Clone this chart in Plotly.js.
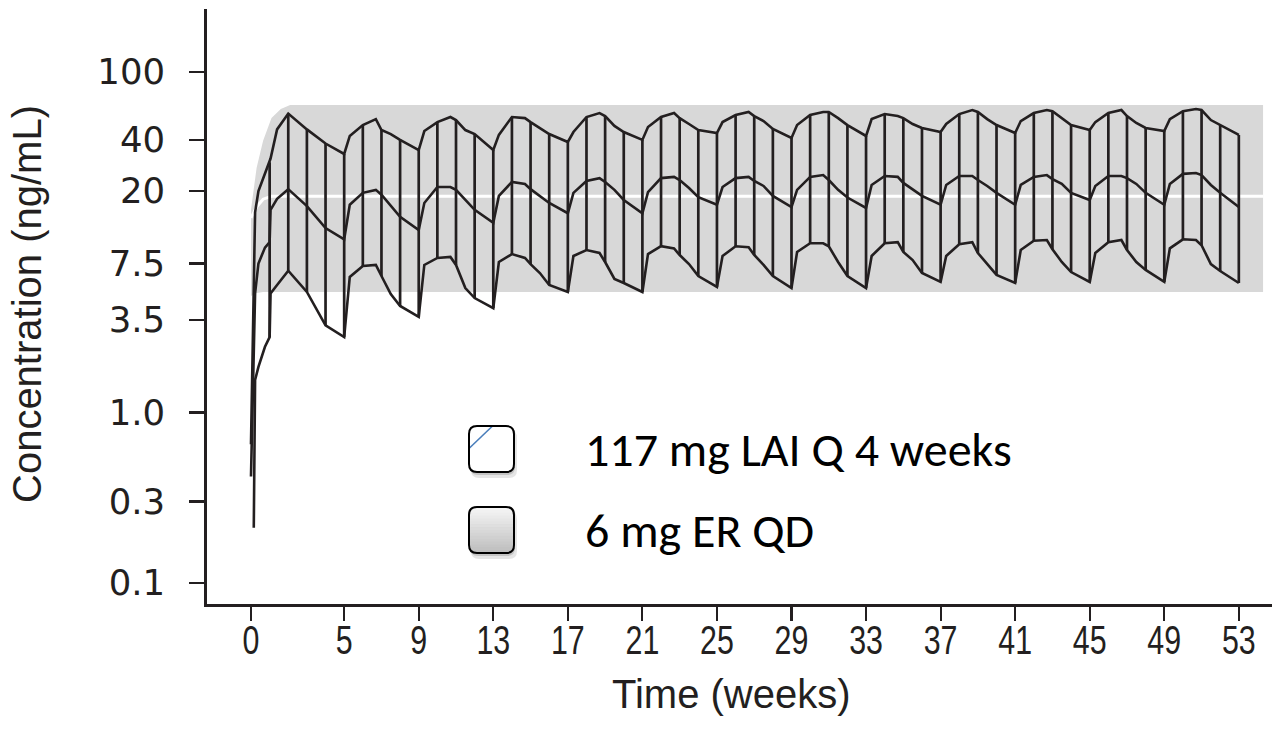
<!DOCTYPE html>
<html><head><meta charset="utf-8">
<script src="https://cdn.plot.ly/plotly-3.0.1.min.js"></script>
<style>html,body{margin:0;padding:0;background:#fff;} #chart{width:1272px;height:742px;}</style>
</head><body><div id="chart"></div>
<script>
// ---- LAI (117 mg Q 4 weeks) simulated band: weeks and 5th/50th/95th percentile (ng/mL)
const weeks = [
  0, 0.15, 0.22, 0.4, 0.75, 1, 1.05, 1.4, 2, 3, 4,
  5, 5.3, 6, 6.7, 7, 7.5, 8,
  9, 9.3, 10, 10.7, 11, 11.5, 12,
  13, 13.3, 14, 14.7, 15, 15.5, 16,
  17, 17.3, 18, 18.7, 19, 19.5, 20,
  21, 21.3, 22, 22.7, 23, 23.5, 24,
  25, 25.3, 26, 26.7, 27, 27.5, 28,
  29, 29.3, 30, 30.7, 31, 31.5, 32,
  33, 33.3, 34, 34.7, 35, 35.5, 36,
  37, 37.3, 38, 38.7, 39, 39.5, 40,
  41, 41.3, 42, 42.7, 43, 43.5, 44,
  45, 45.3, 46, 46.7, 47, 47.5, 48,
  49, 49.3, 50, 50.7, 51, 51.5, 52,
  53
];
const laiUpper = [
  0.65, 7, 15, 20, 25.5, 29.5, 31, 46, 57, 46, 38,
  33.0, 42.1, 48.8, 52.9, 45.6, 43.2, 39.9,
  34.8, 45.0, 50.8, 54.4, 52.2, 45.6, 43.2,
  34.8, 42.7, 54.4, 53.6, 50.8, 46.9, 43.2,
  38.8, 44.4, 54.4, 57.4, 55.1, 48.2, 44.4,
  39.9, 47.5, 54.4, 57.4, 53.6, 49.5, 45.6,
  43.8, 50.8, 55.9, 58.2, 55.1, 51.5, 46.3,
  41.0, 48.8, 55.9, 58.2, 58.2, 53.6, 48.8,
  42.1, 52.9, 56.6, 55.1, 53.6, 49.5, 46.9,
  44.4, 49.5, 56.6, 59.8, 58.2, 52.9, 48.8,
  43.8, 51.5, 57.4, 59.8, 58.9, 53.6, 48.8,
  45.6, 50.8, 57.4, 59.8, 55.1, 50.2, 46.9,
  45.0, 52.9, 58.9, 60.6, 59.8, 52.2, 48.8,
  42.7
];
const laiMedian = [
  0.42, 2.5, 5.0, 7.5, 9.3, 10.0, 15.5, 18.0, 20.5, 16.3, 12.1,
  10.4, 16.6, 19.5, 20.3, 19.0, 16.3, 14.1,
  11.8, 17.0, 21.1, 21.1, 20.3, 17.7, 15.5,
  13.0, 18.7, 22.6, 22.0, 20.5, 18.7, 17.0,
  14.8, 19.5, 22.9, 23.8, 22.6, 20.3, 17.7,
  14.8, 19.7, 23.8, 24.2, 23.2, 20.8, 18.4,
  16.6, 21.1, 23.8, 24.2, 22.9, 21.4, 18.7,
  16.1, 20.3, 24.2, 24.8, 23.2, 20.3, 18.3,
  15.9, 21.7, 24.5, 24.2, 22.3, 20.5, 18.7,
  16.6, 21.7, 24.5, 24.5, 23.2, 21.4, 19.5,
  16.6, 21.7, 24.2, 24.8, 23.5, 22.0, 19.5,
  17.7, 21.4, 24.5, 24.5, 23.8, 22.0, 19.5,
  16.6, 22.0, 25.2, 25.5, 24.8, 21.7, 19.5,
  16.1
];
const laiLower = [
  null, 0.21, 1.55, 1.85, 2.43, 2.77, 5.0, 5.6, 6.8, 5.1, 3.25,
  2.77, 6.25, 7.25, 7.35, 6.33, 4.96, 4.22,
  3.64, 7.35, 8.08, 8.19, 7.35, 5.38, 4.70,
  4.10, 7.65, 8.52, 8.08, 7.44, 6.59, 5.61,
  5.10, 8.30, 9.0, 8.64, 7.65, 6.08, 5.76,
  5.10, 8.52, 9.47, 9.2, 8.41, 7.44, 6.33,
  5.46, 8.30, 9.47, 9.34, 8.41, 7.35, 6.33,
  5.38, 8.76, 9.86, 9.86, 9.47, 7.65, 6.33,
  5.38, 8.30, 9.86, 10.0, 8.76, 7.86, 6.59,
  5.84, 8.30, 9.73, 10.0, 8.64, 7.44, 6.42,
  5.76, 9.0, 10.2, 10.3, 9.1, 7.65, 6.68,
  5.84, 8.64, 10.0, 10.3, 9.0, 7.65, 6.87,
  5.84, 9.2, 10.4, 10.3, 9.6, 7.44, 6.77,
  5.76
];

// ---- ER (6 mg QD) band
const erWeeks  = [0, 0.3, 0.65, 1.1, 1.6, 2.1, 54.3];
const erUpper  = [15.5, 27.3, 39.4, 53.6, 60.6, 64.0, 64.0];
const erMedian = [13.9, 16.1, 17.9, 18.6, 18.6, 18.6, 18.6];
const erLower  = [4.83, 5.03, 5.1, 5.1, 5.1, 5.1, 5.1];

// ---- axes
const xTickVals = [0, 5, 9, 13, 17, 21, 25, 29, 33, 37, 41, 45, 49, 53];
const yTickVals = [0.1, 0.3, 1, 3.5, 7.5, 20, 40, 100];
const yTickText = ['0.1', '0.3', '1.0', '3.5', '7.5', '20', '40', '100'];
const xTitle = 'Time (weeks)';
const yTitle = 'Concentration (ng/mL)';
const legendLabels = ['117 mg LAI Q 4 weeks', '6 mg ER QD'];

const INK = '#231f20';

// hatch lines at every whole week of the LAI series
const hx = [], hy = [];
weeks.forEach((w, i) => {
  if (Number.isInteger(w) && w >= 1 && laiLower[i] != null) {
    hx.push(w, w, null); hy.push(laiLower[i], laiUpper[i], null);
  }
});

const traces = [
  {x: erWeeks, y: erLower, mode: 'lines', line: {width: 0, color: 'rgba(0,0,0,0)'}, hoverinfo: 'skip'},
  {x: erWeeks, y: erUpper, mode: 'lines', fill: 'tonexty', fillcolor: '#d8d8d8', line: {width: 0, color: 'rgba(0,0,0,0)'}, hoverinfo: 'skip'},
  {x: erWeeks, y: erMedian, mode: 'lines', line: {width: 3, color: '#ffffff'}},
  {x: hx, y: hy, mode: 'lines', line: {width: 2.7, color: INK}, connectgaps: false},
  {x: weeks, y: laiUpper, mode: 'lines', line: {width: 2.6, color: INK}},
  {x: weeks, y: laiMedian, mode: 'lines', line: {width: 2.6, color: INK}},
  {x: weeks, y: laiLower, mode: 'lines', line: {width: 2.6, color: INK}, connectgaps: false}
];

// ---- legend decoration (pixel -> paper helpers)
const PL = 207, PT = 9, PW = 1065, PH = 595;
const px = X => (X - PL) / PW;
const py = Y => (PT + PH - Y) / PH;
function rr(x0, y0, x1, y1, r) {
  const f = (a, b) => px(a).toFixed(5) + ',' + py(b).toFixed(5);
  return 'M' + f(x0 + r, y0) + ' L' + f(x1 - r, y0) + ' Q' + f(x1, y0) + ' ' + f(x1, y0 + r) +
    ' L' + f(x1, y1 - r) + ' Q' + f(x1, y1) + ' ' + f(x1 - r, y1) +
    ' L' + f(x0 + r, y1) + ' Q' + f(x0, y1) + ' ' + f(x0, y1 - r) +
    ' L' + f(x0, y0 + r) + ' Q' + f(x0, y0) + ' ' + f(x0 + r, y0) + ' Z';
}
function inset(y, y0, y1, r) {
  let d = 0;
  if (y < y0 + r) d = y0 + r - y; else if (y > y1 - r) d = y - (y1 - r);
  d = Math.min(d, r);
  return r - Math.sqrt(Math.max(0, r * r - d * d));
}
const shapes = [];
const boxes = [[469, 426, 514, 472], [469, 507, 514, 553]];
const R = 8;
boxes.forEach(b => {
  shapes.push({type: 'path', xref: 'paper', yref: 'paper', path: rr(b[0] + 2, b[1] + 4, b[2] + 3, b[3] + 6, R), fillcolor: 'rgba(0,0,0,0.10)', line: {width: 0}});
  shapes.push({type: 'path', xref: 'paper', yref: 'paper', path: rr(b[0] + 1, b[1] + 2, b[2] + 1, b[3] + 3, R), fillcolor: 'rgba(0,0,0,0.14)', line: {width: 0}});
});
// box 1: white with thin blue diagonal
shapes.push({type: 'path', xref: 'paper', yref: 'paper', path: rr(469, 426, 514, 472, R), fillcolor: '#ffffff', line: {width: 0}});
shapes.push({type: 'line', xref: 'paper', yref: 'paper', x0: px(469.5), y0: py(448), x1: px(492), y1: py(426.5), line: {color: '#4a7ebb', width: 1.6}});
shapes.push({type: 'path', xref: 'paper', yref: 'paper', path: rr(469, 426, 514, 472, R), fillcolor: 'rgba(0,0,0,0)', line: {color: '#000', width: 2}});
// box 2: vertical grey gradient
(function () {
  const [x0, y0, x1, y1] = boxes[1];
  const N = 16, h = (y1 - y0) / N;
  const c0 = [247, 247, 247], c1 = [188, 188, 188];
  for (let i = 0; i < N; i++) {
    const ya = y0 + i * h, yb = Math.min(y1, ya + h + 0.6), ym = (ya + yb) / 2;
    const t = (i + 0.5) / N;
    const c = c0.map((v, k) => Math.round(v + (c1[k] - v) * t));
    const pts = [[x0 + inset(ya, y0, y1, R), ya], [x0 + inset(ym, y0, y1, R), ym], [x0 + inset(yb, y0, y1, R), yb],
                 [x1 - inset(yb, y0, y1, R), yb], [x1 - inset(ym, y0, y1, R), ym], [x1 - inset(ya, y0, y1, R), ya]];
    const path = 'M' + pts.map(p => px(p[0]).toFixed(5) + ',' + py(p[1]).toFixed(5)).join(' L') + ' Z';
    shapes.push({type: 'path', xref: 'paper', yref: 'paper', path, fillcolor: 'rgb(' + c.join(',') + ')', line: {width: 0}});
  }
  shapes.push({type: 'path', xref: 'paper', yref: 'paper', path: rr(x0, y0, x1, y1, R), fillcolor: 'rgba(0,0,0,0)', line: {color: '#000', width: 2}});
})();

const legendFont = {family: 'Carlito, Calibri, Lato, sans-serif', size: 48, color: '#000'};
const annotations = [
  {xref: 'paper', yref: 'paper', x: px(583), y: py(449), xanchor: 'left', yanchor: 'middle', text: legendLabels[0], showarrow: false, font: legendFont},
  {xref: 'paper', yref: 'paper', x: px(583), y: py(530), xanchor: 'left', yanchor: 'middle', text: legendLabels[1], showarrow: false, font: legendFont},
  {xref: 'paper', yref: 'paper', x: px(731), y: py(694), xanchor: 'center', yanchor: 'middle', text: xTitle, showarrow: false,
   font: {family: 'Liberation Sans, Arial, sans-serif', size: 40, color: INK}},
  {xref: 'paper', yref: 'paper', x: px(27), y: py(304), xanchor: 'center', yanchor: 'middle', textangle: -90, text: yTitle, showarrow: false,
   font: {family: 'Liberation Sans, Arial, sans-serif', size: 40, color: INK}}
];

const layout = {
  width: 1272, height: 742,
  margin: {l: PL, r: 0, t: PT, b: 742 - PT - PH, pad: 0},
  paper_bgcolor: '#ffffff', plot_bgcolor: '#ffffff',
  showlegend: false,
  xaxis: {
    range: [-2.36, 54.78], tickmode: 'array', tickvals: xTickVals, ticktext: xTickVals.map(String),
    showline: true, linecolor: INK, linewidth: 2.8, ticks: 'outside', ticklen: 14, tickwidth: 2.2, tickcolor: INK,
    showgrid: false, zeroline: false, ticklabelstandoff: -15,
    tickfont: {family: 'Liberation Sans, Arial, sans-serif', size: 40, color: INK}
  },
  yaxis: {
    type: 'log', range: [-1.1257, 2.3702], tickmode: 'array', tickvals: yTickVals, ticktext: yTickText,
    showline: true, linecolor: INK, linewidth: 2.8, ticks: 'outside', ticklen: 15, tickwidth: 2.2, tickcolor: INK,
    showgrid: false, zeroline: false, ticklabelstandoff: 17,
    tickfont: {family: 'DejaVu Sans, sans-serif', size: 35.5, color: INK}
  },
  shapes, annotations
};

Plotly.newPlot('chart', traces, layout, {displayModeBar: false, staticPlot: true}).then(gd => {
  // condense the x tick labels horizontally, as in the reference typeface
  gd.querySelectorAll('.xtick text').forEach(t => {
    const tr = t.getAttribute('transform') || '';
    t.setAttribute('transform', tr + ' scale(0.76,1)');
  });
});
</script>
</body></html>
